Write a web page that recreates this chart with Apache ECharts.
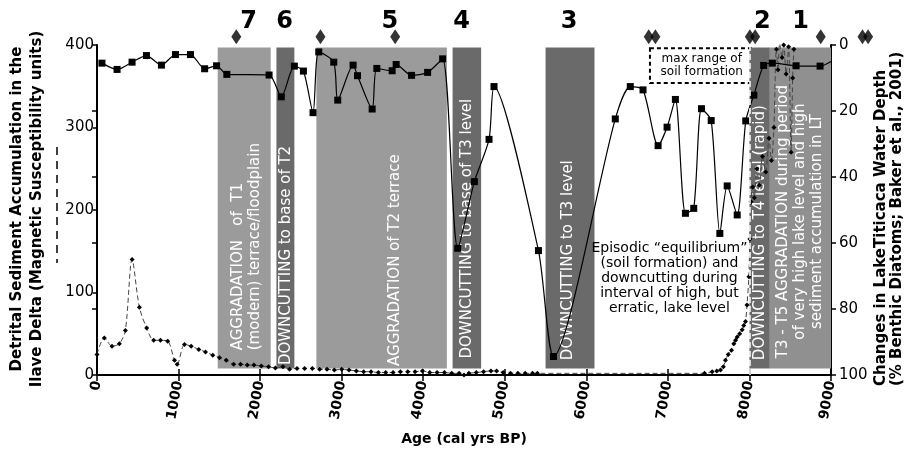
<!DOCTYPE html>
<html><head><meta charset="utf-8">
<script src="https://cdn.jsdelivr.net/npm/echarts@6/dist/echarts.min.js"></script>
<style>html,body{margin:0;padding:0;background:#fff}#c{width:906px;height:452px}</style>
</head><body><div id="c"></div>
<script>
// ---- data ----
const depthAge = [61, 246, 430, 606, 790, 962, 1146, 1320, 1466, 1592, 2110, 2260, 2420, 2531, 2649, 2719, 2903, 2952, 3140, 3194, 3374, 3431, 3619, 3668, 3857, 4054, 4238, 4423, 4627, 4807, 4868, 5413, 5597, 6355, 6539, 6695, 6880, 6990, 7092, 7215, 7317, 7412, 7531, 7637, 7727, 7850, 7955, 8054, 8174, 8280, 8572, 8866, 9000];
const depthPct = [5.5, 7.4, 5.2, 3.2, 6.1, 2.9, 2.9, 7.2, 6.3, 8.9, 9.1, 15.7, 6.4, 7.9, 20.5, 2.1, 5.2, 16.7, 6.1, 9.3, 19.4, 7.1, 7.8, 5.9, 9.2, 8.3, 4.2, 61.6, 41.4, 28.6, 12.6, 62.3, 94.4, 22.4, 12.6, 13.6, 30.5, 24.9, 16.5, 51, 49.5, 19.3, 22.9, 57.1, 42.7, 51.5, 23, 15.2, 6.2, 5.5, 6.3, 6.4, 5];

const sedAge = [0, 90, 184, 274, 348, 430, 520, 609, 695, 778, 867, 950, 983, 1073, 1155, 1248, 1330, 1420, 1502, 1585, 1675, 1760, 1842, 1924, 2015, 2104, 2187, 2280, 2362, 2452, 2546, 2640, 2730, 2820, 2910, 3000, 3090, 3180, 3270, 3360, 3450, 3540, 3630, 3720, 3810, 3900, 3990, 4080, 4170, 4260, 4350, 4440, 4500, 4560, 4650, 4740, 4830, 4900, 4980, 5070, 5160, 5250, 5340, 5400, 7450, 7543, 7600, 7645, 7680, 7706, 7740, 7780, 7808, 7830, 7850, 7880, 7911, 7930, 7952, 7970, 7993, 8005, 8020, 8040, 8060, 8090, 8120, 8160, 8200, 8240, 8270, 8300, 8330, 8350, 8370, 8400, 8420, 8450, 8480, 8510, 8530, 8545];
const sedValue = [25, 45, 35, 38, 54, 140, 82, 57, 42, 42, 41, 18, 13, 37, 35, 31, 28, 24, 21, 18, 13, 13, 12, 12, 11, 10, 8.5, 10, 7, 8, 8, 8, 7, 7, 6, 7, 6, 5, 4, 4, 3, 3, 3, 4, 4, 4, 5, 3, 3, 3, 2, 2, 0, 2, 3, 4, 5, 5, 3, 2, 2, 2, 2, 2, 2, 4, 5, 6, 10, 18, 25, 30, 38, 42, 46, 50, 55, 60, 65, 85, 119, 165, 210, 228, 215, 250, 230, 265, 246, 287, 260, 300, 395, 370, 402, 385, 400, 365, 398, 270, 360, 395];

const bandStart = [1480, 2200, 2690, 4360, 5500, 8000, 8250];
const bandEnd   = [2130, 2420, 4290, 4710, 6100, 8250, 9000];
const bandKind  = ['light', 'dark', 'light', 'dark', 'dark', 'dark', 'light2'];

const zoneNames = ['7', '6', '5', '4', '3', '2', '1'];
const zoneAge   = [1859, 2301, 3591, 4472, 5790, 8157, 8628];

const dateAge = [1708, 2740, 3656, 6765, 6847, 8005, 8070, 8874, 9386, 9455];

const bandTexts = [
  'AGGRADATION   of  T1\n(modern) terrace/floodplain',
  'DOWNCUTTING to base of T2',
  'AGGRADATION of T2 terrace',
  'DOWNCUTTING to base of T3 level',
  'DOWNCUTTING to T3 level',
  'DOWNCUTTING to T4 level (rapid)',
  'T3 - T5 AGGRADATION during period\nof very high lake level and high\nsediment accumulation in LT'
];
const bandTextAge   = [1834, 2320, 3652, 4533, 5778, 8136, 8624];
const bandTextLevel = [30, 12, 11, 20, 18, 18, 186];
const bandTextAlign = ['left', 'left', 'left', 'left', 'left', 'left', 'center'];

const noteText  = 'Episodic \u201cequilibrium\u201d\n(soil formation) and\ndowncutting during\ninterval of high, but\nerratic, lake level';
const noteAge   = 7019;
const noteLevel = 117;

const soilRange = [6780, 8050];
const soilRangeDepth = [1, 11.5];

// ---- chart ----
const FF = 'DejaVu Sans';
const bandColors = {light: '#9b9b9b', light2: '#909090', dark: '#6a6a6a'};
const chart = echarts.init(document.getElementById('c'));
const last = depthAge.length - 1;

function textSeries(name, z, data, styleFn, rot) {
  return {
    type: 'custom', name: name, z: z, silent: true, clip: false,
    data: data,
    renderItem: (params, api) => {
      const p = api.coord([api.value(0), api.value(1)]);
      return {type: 'text', x: p[0], y: p[1], rotation: rot, style: styleFn(params.dataIndex)};
    }
  };
}

const tickLine = {color: '#000', width: 1.5};

chart.setOption({
  animation: false,
  backgroundColor: '#fff',
  grid: {left: 97, right: 75, top: 45, bottom: 77},
  xAxis: [{
    type: 'value', min: 0, max: 9000, interval: 1000,
    axisLine: {show: true, onZero: false, lineStyle: {color: '#000', width: 2}},
    axisTick: {show: true, length: 6, lineStyle: tickLine},
    axisLabel: {color: '#000', fontSize: 14, fontWeight: 'bold', fontFamily: FF, rotate: 80, margin: 6,
      formatter: v => String(v)},
    splitLine: {show: false}
  }, {
    type: 'value', min: 0, max: 9000, interval: 1000, position: 'bottom',
    axisLine: {show: false}, axisLabel: {show: false}, splitLine: {show: false},
    axisTick: {show: true, inside: true, length: 6, lineStyle: tickLine}
  }],
  yAxis: [{
    type: 'value', min: 0, max: 400, interval: 100, position: 'left',
    axisLine: {show: true, onZero: false, lineStyle: {color: '#000', width: 2}},
    axisTick: {show: true, length: 4, lineStyle: tickLine},
    axisLabel: {color: '#000', fontSize: 15, fontFamily: FF, margin: 3},
    splitLine: {show: false}
  }, {
    type: 'value', min: 0, max: 100, interval: 20, position: 'right', inverse: true,
    axisLine: {show: true, onZero: false, lineStyle: {color: '#000', width: 2}},
    axisTick: {show: true, length: 5, lineStyle: tickLine},
    axisLabel: {color: '#000', fontSize: 15, fontFamily: FF, margin: 8},
    splitLine: {show: false}
  }, {
    type: 'value', min: 0, max: 100, interval: 20, position: 'right', inverse: true,
    axisLine: {show: false}, axisLabel: {show: false}, splitLine: {show: false},
    axisTick: {show: true, inside: true, length: 5, lineStyle: tickLine}
  }],
  series: [{
    type: 'custom', name: 'bands', z: 1, silent: true, clip: false,
    data: bandStart.map((s, i) => [s, bandEnd[i], i]),
    encode: {x: [0, 1]},
    renderItem: (params, api) => {
      const i = api.value(2);
      const p0 = api.coord([api.value(0), 397]);
      const p1 = api.coord([api.value(1), 8]);
      return {type: 'rect', shape: {x: p0[0], y: p0[1], width: p1[0] - p0[0], height: p1[1] - p0[1]},
        style: {fill: bandColors[bandKind[i]]}};
    }
  },
  textSeries('bandText', 2, bandTextAge.map((a, i) => [a, bandTextLevel[i]]), i => ({
    text: bandTexts[i], fill: '#fff', font: '15px "' + FF + '"',
    align: bandTextAlign[i], verticalAlign: 'middle', lineHeight: 17
  }), Math.PI / 2),
  textSeries('note', 6, [[noteAge, noteLevel]], i => ({
    text: noteText, fill: '#000', font: '14px "' + FF + '"',
    align: 'center', verticalAlign: 'middle', lineHeight: 15
  }), 0),
  textSeries('zones', 6, zoneAge.map(a => [a, 428]), i => ({
    text: zoneNames[i], fill: '#000', font: 'bold 24px "' + FF + '"',
    align: 'center', verticalAlign: 'middle'
  }), 0),
  {
    type: 'line', name: 'sediment', yAxisIndex: 0, z: 3,
    data: sedAge.map((a, i) => [a, sedValue[i]]),
    smooth: 0.3, symbol: 'diamond', symbolSize: 5,
    itemStyle: {color: '#000'},
    lineStyle: {color: '#444', width: 1, type: [5, 3]}
  }, {
    type: 'line', name: 'depth', yAxisIndex: 1, z: 4,
    data: depthAge.map((a, i) => [a, depthPct[i]]),
    smooth: 0.25,
    symbol: (v, p) => p.dataIndex === last ? 'none' : 'rect', symbolSize: 7,
    itemStyle: {color: '#000'},
    lineStyle: {color: '#000', width: 1.2},
    markArea: {
      silent: true,
      itemStyle: {color: 'rgba(0,0,0,0)', borderColor: '#000', borderWidth: 2, borderType: [4, 3]},
      label: {show: true, position: 'inside', formatter: 'max range of\nsoil formation', color: '#000', fontSize: 12, fontFamily: FF, lineHeight: 13},
      data: [[{coord: [soilRange[0], soilRangeDepth[0]]}, {coord: [soilRange[1], soilRangeDepth[1]]}]]
    },
    markLine: {
      silent: true, symbol: 'none', label: {show: false},
      lineStyle: {color: '#fff', type: 'dashed', width: 1.5},
      data: [{xAxis: 8000}]
    }
  }, {
    type: 'scatter', name: 'dates', yAxisIndex: 0, z: 5, clip: false,
    data: dateAge.map(a => [a, 410]),
    symbol: 'diamond', symbolSize: [10, 15], itemStyle: {color: '#000'}
  }],
  graphic: [
    {type: 'line', shape: {x1: 57, y1: 147, x2: 57, y2: 263}, style: {stroke: '#000', lineWidth: 1.5, lineDash: [8, 6]}},
    {type: 'text', x: 27, y: 209, rotation: Math.PI / 2,
      style: {text: 'Detrital Sediment Accumulation in the\nIlave Delta (Magnetic Susceptibility units)', fill: '#000',
        font: 'bold 15px "' + FF + '"', align: 'center', verticalAlign: 'middle', lineHeight: 20}},
    {type: 'text', x: 889, y: 386, rotation: Math.PI / 2,
      style: {text: 'Changes in LakeTiticaca Water Depth\n(% Benthic Diatoms; Baker et al., 2001)', fill: '#000',
        font: 'bold 15px "' + FF + '"', align: 'left', verticalAlign: 'middle', lineHeight: 16}},
    {type: 'text', x: 464, y: 439,
      style: {text: 'Age (cal yrs BP)', fill: '#000', font: 'bold 14px "' + FF + '"', align: 'center', verticalAlign: 'middle'}}
  ]
});
</script></body></html>
